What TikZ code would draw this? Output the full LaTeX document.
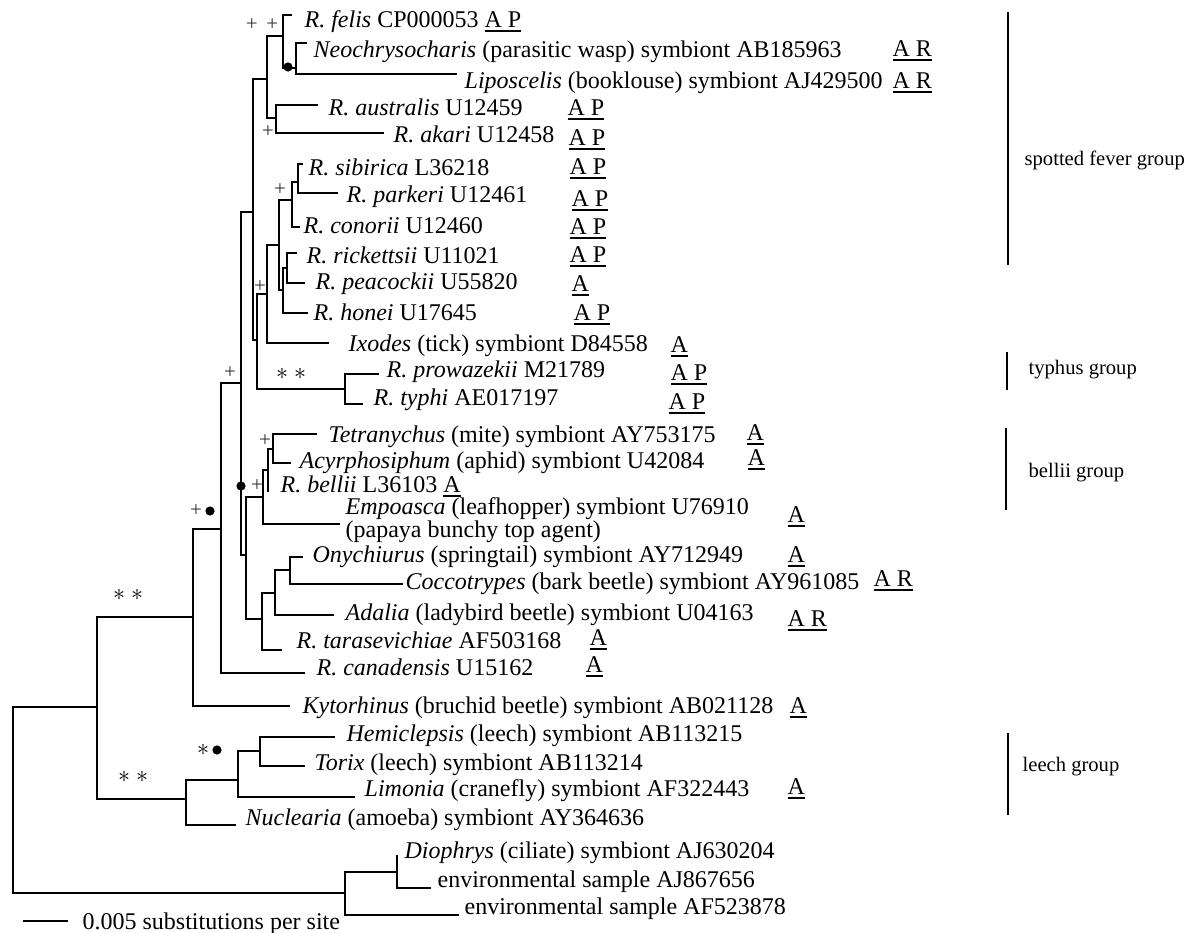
\documentclass[tikz,border=0pt]{standalone}
\usepackage{fontspec}
\setmainfont{Liberation Serif}
\newcommand{\attr}[1]{\setbox0\hbox{#1}\rlap{\rule[-2.4pt]{\wd0}{0.9pt}}#1}
\begin{document}
\begin{tikzpicture}[x=0.5pt,y=-0.5pt,line width=0.65pt,
  every node/.style={font=\fontsize{12}{13}\selectfont},
  taxon/.style={anchor=base west,inner sep=0pt},
  support/.style={inner sep=0pt,font=\fontsize{10.5}{12}\selectfont,text=black!80},
  dot/.style={circle,fill,inner sep=0pt,minimum size=4.6pt},
  group/.style={anchor=west,inner sep=0pt,font=\fontsize{10.3}{12}\selectfont}]
\useasboundingbox (0,0) rectangle (1187,932);
% internal nodes
\coordinate (root) at (13,800);
\coordinate (nU) at (97,707);
\coordinate (nK) at (193,617);
\coordinate (nRc) at (221,529);
\coordinate (nR) at (241,383);
\coordinate (nE) at (253,212);
\coordinate (nA) at (267,79);
\coordinate (nf) at (283,36);
\coordinate (nn) at (296,68);
\coordinate (na) at (276,118);
\coordinate (nD) at (257,340);
\coordinate (nC) at (267,294);
\coordinate (nsr) at (279,245);
\coordinate (nsc) at (292,200);
\coordinate (nsp) at (298,182);
\coordinate (nrh) at (283,290);
\coordinate (nrp) at (287,268);
\coordinate (nty) at (345,389);
\coordinate (nF) at (246,555);
\coordinate (nH) at (263,497);
\coordinate (nG) at (268,470);
\coordinate (nTA) at (273,449);
\coordinate (nO) at (262,619);
\coordinate (nAd) at (275,593);
\coordinate (nOC) at (290,570);
\coordinate (nL) at (186,799);
\coordinate (nLL) at (238,780);
\coordinate (nHT) at (260,751);
\coordinate (nDi) at (345,893);
\coordinate (nDE) at (397,872);
% tips
\coordinate (felis) at (292,15);
\coordinate (neo) at (307,43);
\coordinate (lipo) at (457,74);
\coordinate (aus) at (318,105);
\coordinate (akari) at (384,133);
\coordinate (sib) at (303,164);
\coordinate (park) at (338,193);
\coordinate (con) at (300,227);
\coordinate (rick) at (297,253);
\coordinate (peac) at (305,283);
\coordinate (hon) at (308,313);
\coordinate (ixo) at (329,343);
\coordinate (prow) at (379,374);
\coordinate (typhi) at (363,404);
\coordinate (tetra) at (317,434);
\coordinate (acyr) at (291,463);
\coordinate (bellii) at (268,492);
\coordinate (emp) at (340,524);
\coordinate (ony) at (303,557);
\coordinate (cocc) at (403,584);
\coordinate (adal) at (334,615);
\coordinate (taras) at (282,650);
\coordinate (canad) at (305,673);
\coordinate (kyto) at (290,706);
\coordinate (hemi) at (335,737);
\coordinate (torix) at (305,766);
\coordinate (limo) at (355,797);
\coordinate (nucl) at (236,825);
\coordinate (dioph) at (397,855);
\coordinate (env1) at (431,888);
\coordinate (env2) at (459,915);

% branches
\draw (root) |- (nU) (root) |- (nDi);
\draw (nU) |- (nK) (nU) |- (nL);
\draw (nK) |- (nRc) (nK) |- (kyto);
\draw (nRc) |- (nR) (nRc) |- (canad);
\draw (nR) |- (nE) (nR) |- (nF);
\draw (nE) |- (nA) (nE) |- (nD);
\draw (nA) |- (nf) (nA) |- (na);
\draw (nf) |- (felis) (nf) |- (nn);
\draw (nn) |- (neo) (nn) |- (lipo);
\draw (na) |- (aus) (na) |- (akari);
\draw (nD) |- (nC) (nD) |- (nty);
\draw (nC) |- (nsr) (nC) |- (ixo);
\draw (nsr) |- (nsc) (nsr) |- (nrh);
\draw (nsc) |- (nsp) (nsc) |- (con);
\draw (nsp) |- (sib) (nsp) |- (park);
\draw (nrh) |- (nrp) (nrh) |- (hon);
\draw (nrp) |- (rick) (nrp) |- (peac);
\draw (nty) |- (prow) (nty) |- (typhi);
\draw (nF) |- (nH) (nF) |- (nO);
\draw (nH) |- (nG) (nH) |- (emp);
\draw (nG) |- (nTA) (nG) |- (bellii);
\draw (nTA) |- (tetra) (nTA) |- (acyr);
\draw (nO) |- (nAd) (nO) |- (taras);
\draw (nAd) |- (nOC) (nAd) |- (adal);
\draw (nOC) |- (ony) (nOC) |- (cocc);
\draw (nL) |- (nLL) (nL) |- (nucl);
\draw (nLL) |- (nHT) (nLL) |- (limo);
\draw (nHT) |- (hemi) (nHT) |- (torix);
\draw (nDi) |- (nDE) (nDi) |- (env2);
\draw (nDE) |- (dioph) (nDE) |- (env1);

% taxon labels
\node[taxon] (Lfelis) at (304,27) {\textit{R. felis} CP000053 \attr{A P}};
\node[taxon] (Lneo) at (313,57) {\textit{Neochrysocharis} (parasitic wasp) symbiont AB185963};
\node[taxon] (Llipo) at (464,88) {\textit{Liposcelis} (booklouse) symbiont AJ429500};
\node[taxon] (Laus) at (328,115) {\textit{R. australis} U12459};
\node[taxon] (Lakari) at (393,142) {\textit{R. akari} U12458};
\node[taxon] (Lsib) at (308,175) {\textit{R. sibirica} L36218};
\node[taxon] (Lpark) at (346,202) {\textit{R. parkeri} U12461};
\node[taxon] (Lcon) at (303,233) {\textit{R. conorii} U12460};
\node[taxon] (Lrick) at (306,263) {\textit{R. rickettsii} U11021};
\node[taxon] (Lpeac) at (315,289) {\textit{R. peacockii} U55820};
\node[taxon] (Lhon) at (313,320) {\textit{R. honei} U17645};
\node[taxon] (Lixo) at (348,351) {\textit{Ixodes} (tick) symbiont D84558};
\node[taxon] (Lprow) at (386,377) {\textit{R. prowazekii} M21789};
\node[taxon] (Ltyphi) at (373,405) {\textit{R. typhi} AE017197};
\node[taxon] (Ltetra) at (328,442) {\textit{Tetranychus} (mite) symbiont AY753175};
\node[taxon] (Lacyr) at (299,468) {\textit{Acyrphosiphum} (aphid) symbiont U42084};
\node[taxon] (Lbellii) at (280,492) {\textit{R. bellii} L36103 \attr{A}};
\node[anchor=west,inner sep=0pt,align=left,font=\fontsize{12}{11.5}\selectfont] (Lemp) at (345,520)
  {\textit{Empoasca} (leafhopper) symbiont U76910\\(papaya bunchy top agent)};
\node[taxon] (Lony) at (312,562) {\textit{Onychiurus} (springtail) symbiont AY712949};
\node[taxon] (Lcocc) at (405,589) {\textit{Coccotrypes} (bark beetle) symbiont AY961085};
\node[taxon] (Ladal) at (345,620) {\textit{Adalia} (ladybird beetle) symbiont U04163};
\node[taxon] (Ltaras) at (296,648) {\textit{R. tarasevichiae} AF503168};
\node[taxon] (Lcanad) at (316,675) {\textit{R. canadensis} U15162};
\node[taxon] (Lkyto) at (302,713) {\textit{Kytorhinus} (bruchid beetle) symbiont AB021128};
\node[taxon] (Lhemi) at (346,741) {\textit{Hemiclepsis} (leech) symbiont AB113215};
\node[taxon] (Ltorix) at (314,770) {\textit{Torix} (leech) symbiont AB113214};
\node[taxon] (Llimo) at (364,796) {\textit{Limonia} (cranefly) symbiont AF322443};
\node[taxon] (Lnucl) at (245,825) {\textit{Nuclearia} (amoeba) symbiont AY364636};
\node[taxon] (Ldioph) at (404,858) {\textit{Diophrys} (ciliate) symbiont AJ630204};
\node[taxon] (Lenv1) at (437,887) {environmental sample AJ867656};
\node[taxon] (Lenv2) at (464,914) {environmental sample AF523878};

% marker columns
\node[taxon] (Mneo) at (892,56) {\attr{A R}};
\node[taxon] (Mlipo) at (892,88) {\attr{A R}};
\node[taxon] (Maus) at (567,115) {\attr{A P}};
\node[taxon] (Makari) at (568,145) {\attr{A P}};
\node[taxon] (Msib) at (569,174) {\attr{A P}};
\node[taxon] (Mpark) at (571,206) {\attr{A P}};
\node[taxon] (Mcon) at (569,234) {\attr{A P}};
\node[taxon] (Mrick) at (569,262) {\attr{A P}};
\node[taxon] (Mpeac) at (571,291) {\attr{A}};
\node[taxon] (Mhon) at (573,320) {\attr{A P}};
\node[taxon] (Mixo) at (670,352) {\attr{A}};
\node[taxon] (Mprow) at (670,380) {\attr{A P}};
\node[taxon] (Mtyphi) at (668,409) {\attr{A P}};
\node[taxon] (Mtetra) at (746,440) {\attr{A}};
\node[taxon] (Macyr) at (747,465) {\attr{A}};
\node[taxon] (Memp) at (787,522) {\attr{A}};
\node[taxon] (Mony) at (787,562) {\attr{A}};
\node[taxon] (Mcocc) at (873,586) {\attr{A R}};
\node[taxon] (Madal) at (787,626) {\attr{A R}};
\node[taxon] (Mtaras) at (589,645) {\attr{A}};
\node[taxon] (Mcanad) at (585,672) {\attr{A}};
\node[taxon] (Mkyto) at (789,713) {\attr{A}};
\node[taxon] (Mlimo) at (787,794) {\attr{A}};

% support values
\node[support] (s1) at (262,25) {+ \,+};
\node[dot] (d1) at (288,67) {};
\node[support] (s2) at (268,132) {+};
\node[support] (s3) at (280,190) {+};
\node[support] (s4) at (260,287) {+};
\node[support] (s5) at (230,373) {+};
\node[support,font=\fontsize{12}{12}\selectfont,text=black] (s6) at (291,374) {$\ast$ $\ast$};
\node[support] (s7) at (265,441) {+};
\node[dot] (d2) at (241,486) {};
\node[support] (s8) at (257,486) {+};
\node[support] (s9) at (196,511) {+};
\node[dot] (d3) at (210,511) {};
\node[support,font=\fontsize{12}{12}\selectfont,text=black] (s10) at (128,595) {$\ast$ $\ast$};
\node[support,font=\fontsize{12}{12}\selectfont,text=black] (s11) at (203,750) {$\ast$};
\node[dot] (d4) at (217,750) {};
\node[support,font=\fontsize{12}{12}\selectfont,text=black] (s12) at (133,777) {$\ast$ $\ast$};

% groups
\coordinate (g1a) at (1008,12); \coordinate (g1b) at (1008,265);
\coordinate (g2a) at (1007,352); \coordinate (g2b) at (1007,390);
\coordinate (g3a) at (1006,428); \coordinate (g3b) at (1006,510);
\coordinate (g4a) at (1008,733); \coordinate (g4b) at (1008,815);
\draw (g1a) -- (g1b);
\draw (g2a) -- (g2b);
\draw (g3a) -- (g3b);
\draw (g4a) -- (g4b);
\node[group] (G1) at (1024,160) {spotted fever group};
\node[group] (G2) at (1028,370) {typhus group};
\node[group] (G3) at (1028,473) {bellii group};
\node[group] (G4) at (1022,767) {leech group};

% scale bar
\coordinate (sb1) at (23,921); \coordinate (sb2) at (68,921);
\draw (sb1) -- (sb2);
\node[taxon] (Lscale) at (82,929) {0.005 substitutions per site};
\end{tikzpicture}
\end{document}
